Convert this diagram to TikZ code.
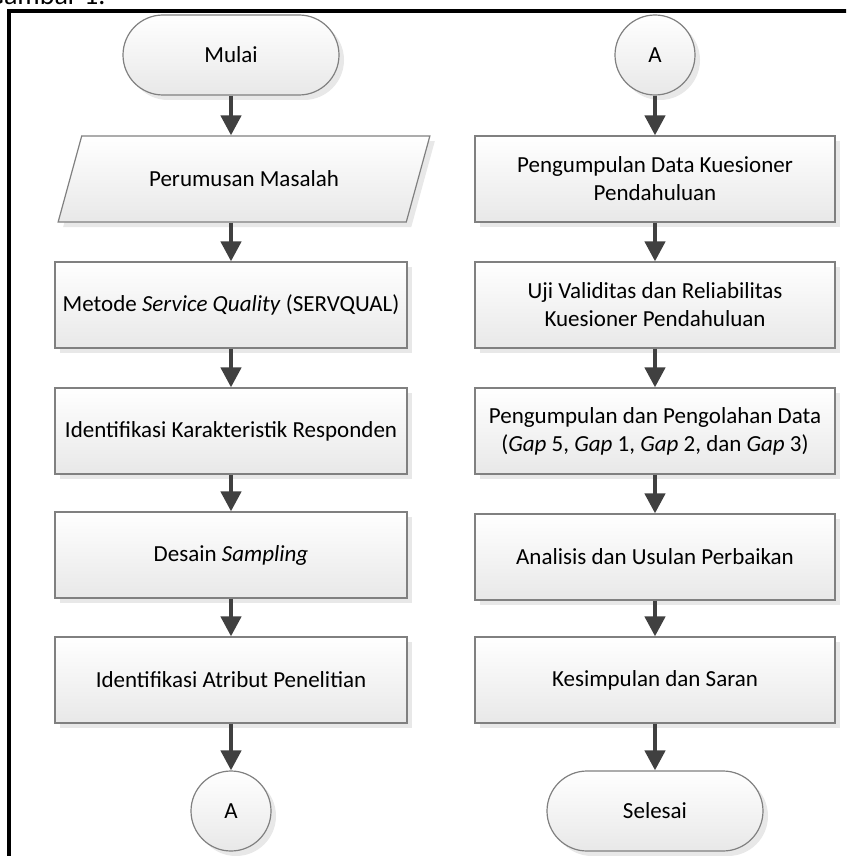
\documentclass[tikz,border=0pt]{standalone}
\usepackage{fontspec}
\setmainfont{Carlito}
\usetikzlibrary{arrows.meta,shapes.geometric,shadows}
\begin{document}
\begin{tikzpicture}[x=0.5pt, y=-0.5pt,
    box/.style={draw=black!50, line width=0.6pt, top color=white, bottom color=black!9,
        drop shadow={opacity=0.18, shadow xshift=2.5pt, shadow yshift=-2.5pt},
        minimum height=43pt, align=center, font=\fontsize{11.5}{14}\selectfont},
    lbox/.style={box, minimum width=176pt},
    rbox/.style={box, minimum width=180pt},
    term/.style={box, rounded corners=20pt, minimum width=108pt, minimum height=40pt},
    conn/.style={box, circle, minimum size=40pt, inner sep=0pt},
    io/.style={box, trapezium, trapezium left angle=63.4, trapezium right angle=116.6,
        trapezium stretches=true, minimum width=186pt},
    flow/.style={draw=black!75, line width=2.2pt, -{Triangle[width=10pt, length=10pt]}}]
    \clip (0,0) rectangle (846,856);
    \draw[line width=1.6pt] (9,11) rectangle (900,900);
    \node[anchor=base west, inner sep=0pt, font=\fontsize{14}{16}\selectfont] (caption) at (-14,5) {Gambar 1.};

    \node[term] (mulai) at (231,55) {Mulai};
    \node[io] (rumusan) at (244,179) {Perumusan Masalah};
    \node[lbox] (metode) at (231,305) {Metode \textit{Service Quality} (SERVQUAL)};
    \node[lbox] (karakter) at (231,431) {Identifikasi Karakteristik Responden};
    \node[lbox] (desain) at (231,555) {Desain \textit{Sampling}};
    \node[lbox] (atribut) at (231,680) {Identifikasi Atribut Penelitian};
    \node[conn] (outA) at (231,811) {A};

    \node[conn] (inA) at (655,55) {A};
    \node[rbox] (kuesioner) at (655,179) {Pengumpulan Data Kuesioner\\Pendahuluan};
    \node[rbox] (uji) at (655,305) {Uji Validitas dan Reliabilitas\\Kuesioner Pendahuluan};
    \node[rbox] (olah) at (655,431) {Pengumpulan dan Pengolahan Data\\(\textit{Gap} 5, \textit{Gap} 1, \textit{Gap} 2, dan \textit{Gap} 3)};
    \node[rbox] (analisis) at (655,557) {Analisis dan Usulan Perbaikan};
    \node[rbox] (simpul) at (655,680) {Kesimpulan dan Saran};
    \node[term] (selesai) at (655,811) {Selesai};

    \draw[flow] (mulai) -- (mulai |- rumusan.north);
    \draw[flow] (mulai |- rumusan.south) -- (metode);
    \draw[flow] (metode) -- (karakter);
    \draw[flow] (karakter) -- (desain);
    \draw[flow] (desain) -- (atribut);
    \draw[flow] (atribut) -- (outA);

    \draw[flow] (inA) -- (kuesioner);
    \draw[flow] (kuesioner) -- (uji);
    \draw[flow] (uji) -- (olah);
    \draw[flow] (olah) -- (analisis);
    \draw[flow] (analisis) -- (simpul);
    \draw[flow] (simpul) -- (selesai);
\end{tikzpicture}
\end{document}
